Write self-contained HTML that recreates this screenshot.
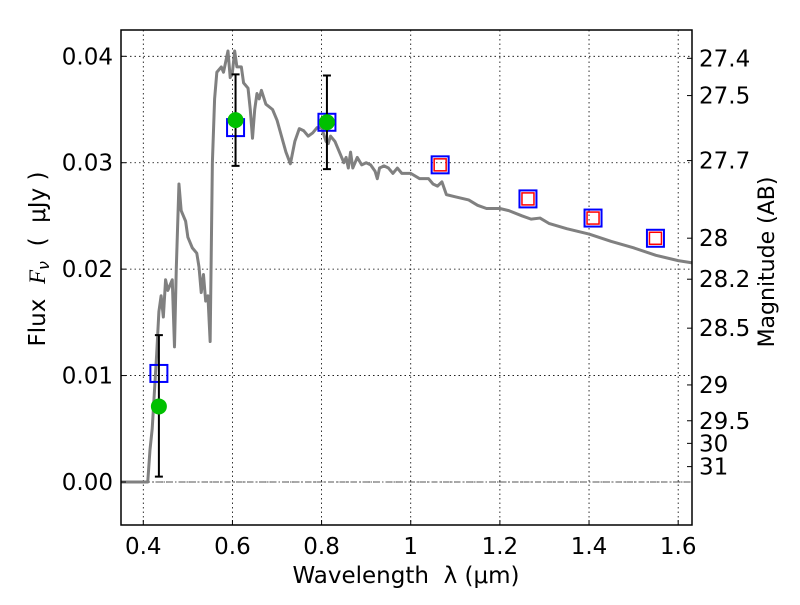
<!DOCTYPE html>
<html><head><meta charset="utf-8"><style>
body{margin:0;background:#fff}
svg text{font-family:"DejaVu Sans","Liberation Sans",sans-serif;fill:#000;white-space:pre}
</style></head><body>
<svg id="chart" width="800" height="600" viewBox="0 0 800 600" xmlns="http://www.w3.org/2000/svg">
<g id="grid"></g>
<g id="marks"></g>
<g id="axes"></g>
<text x="406" y="583" font-size="23" text-anchor="middle" xml:space="preserve">Wavelength  λ (μm)</text>
<text transform="translate(45,259) rotate(-90)" font-size="23" text-anchor="middle" xml:space="preserve">Flux  <tspan font-style="italic" font-family="Liberation Serif">F</tspan><tspan font-style="italic" font-size="16" dy="4">ν</tspan><tspan dy="-4">  (  μJy )</tspan></text>
<text transform="translate(774,262) rotate(-90)" font-size="22" text-anchor="middle">Magnitude (AB)</text>
</svg>
<script>
const specWave=[0.35,0.41,0.415,0.42,0.43,0.435,0.44,0.445,0.45,0.455,0.46,0.465,0.47,0.474,0.48,0.485,0.49,0.495,0.5,0.51,0.52,0.525,0.53,0.535,0.54,0.545,0.55,0.555,0.56,0.565,0.575,0.58,0.59,0.595,0.6,0.605,0.61,0.62,0.625,0.635,0.64,0.645,0.65,0.655,0.66,0.665,0.675,0.69,0.7,0.71,0.72,0.73,0.74,0.75,0.76,0.77,0.78,0.79,0.8,0.81,0.815,0.82,0.83,0.84,0.85,0.855,0.86,0.865,0.87,0.88,0.89,0.9,0.91,0.92,0.925,0.93,0.94,0.95,0.96,0.97,0.98,1.0,1.02,1.04,1.05,1.06,1.07,1.08,1.1,1.13,1.15,1.17,1.2,1.22,1.25,1.27,1.29,1.31,1.35,1.4,1.45,1.5,1.55,1.6,1.63];
const specFlux=[0,0,0.003,0.005,0.012,0.016,0.0175,0.0155,0.019,0.018,0.0185,0.019,0.0127,0.02,0.028,0.0255,0.025,0.0245,0.023,0.022,0.0215,0.0202,0.0178,0.0195,0.017,0.0175,0.0132,0.03,0.036,0.0385,0.039,0.0385,0.0405,0.038,0.0385,0.0405,0.039,0.039,0.0375,0.037,0.035,0.0323,0.035,0.0365,0.036,0.0368,0.0355,0.035,0.034,0.0325,0.031,0.0299,0.032,0.0332,0.033,0.0325,0.0328,0.0333,0.0333,0.032,0.0318,0.0325,0.032,0.031,0.03,0.0305,0.0295,0.031,0.0295,0.0305,0.0298,0.03,0.0298,0.0292,0.0285,0.0295,0.0297,0.0295,0.029,0.0295,0.029,0.029,0.0285,0.0285,0.028,0.0278,0.0282,0.027,0.0268,0.0265,0.026,0.0257,0.0257,0.0255,0.025,0.0247,0.0248,0.0243,0.0238,0.0233,0.0226,0.022,0.0213,0.0208,0.0206];
const modelWave=[0.435,0.607,0.812,1.066,1.263,1.409,1.549];
const modelFlux=[0.0102,0.0333,0.0338,0.0298,0.0266,0.0248,0.0229];
const irWave=[1.066,1.263,1.409,1.549];
const irFlux=[0.0298,0.0266,0.0248,0.0229];
const obsWave=[0.435,0.607,0.812];
const obsFlux=[0.0071,0.034,0.0338];
const obsLo=[0.0005,0.0297,0.0294];
const obsHi=[0.0138,0.0383,0.0382];
const xTicks=[0.4,0.6,0.8,1,1.2,1.4,1.6];
const xTickLabels=["0.4","0.6","0.8","1","1.2","1.4","1.6"];
const yTicks=[0,0.01,0.02,0.03,0.04];
const yTickLabels=["0.00","0.01","0.02","0.03","0.04"];
const magTicks=[27.4,27.5,27.7,28,28.2,28.5,29,29.5,30,31];

const L=121,R=692,T=30,B=525,X0=0.35,X1=1.631,Y0=-0.00404,Y1=0.04247;
const sx=v=>L+(v-X0)/(X1-X0)*(R-L);
const sy=v=>B-(v-Y0)/(Y1-Y0)*(B-T);
const NS="http://www.w3.org/2000/svg";
function mk(tag,parent,attrs){const e=document.createElementNS(NS,tag);for(const k in attrs)e.setAttribute(k,attrs[k]);parent.appendChild(e);return e;}
const grid=document.getElementById('grid'),marks=document.getElementById('marks'),axes=document.getElementById('axes');

xTicks.forEach((t,i)=>{
  const g=mk('line',grid,{x1:sx(t),x2:sx(t),y1:T,y2:B,stroke:'#000','stroke-width':0.8,'stroke-dasharray':'1.5,3'});
  
  
  const tk=mk('line',axes,{x1:sx(t),x2:sx(t),y1:B,y2:B-5,stroke:'#000'});
  
  
  const tx=mk('text',axes,{x:sx(t),y:B+29,'font-size':23,'text-anchor':'middle'});tx.textContent=xTickLabels[i];
  
  
});
yTicks.forEach((t,i)=>{
  const g=mk('line',grid,{x1:L,x2:R,y1:sy(t),y2:sy(t),stroke:'#000','stroke-width':0.8,'stroke-dasharray':'1.5,3'});
  
  
  const tk=mk('line',axes,{x1:L,x2:L+5,y1:sy(t),y2:sy(t),stroke:'#000'});
  
  
  const tx=mk('text',axes,{x:L-8,y:sy(t)+8,'font-size':23,'text-anchor':'end'});tx.textContent=yTickLabels[i];
  
  
});
magTicks.forEach(m=>{
  const f=Math.pow(10,(23.9-m)/2.5);
  const tk=mk('line',axes,{x1:R,x2:R-5,y1:sy(f),y2:sy(f),stroke:'#000'});
  
  
  const tx=mk('text',axes,{x:R+7,y:sy(f)+8,'font-size':23});tx.textContent=String(m);
  
  
});
const zl=mk('line',marks,{x1:L,x2:R,y1:sy(0),y2:sy(0),stroke:'#555','stroke-width':1,'stroke-dasharray':'6,2,1.5,2'});


const sp=mk('polyline',marks,{points:specWave.map((w,i)=>sx(w)+','+sy(specFlux[i])).join(' '),fill:'none',stroke:'#808080','stroke-width':3,'stroke-linejoin':'round'});


modelWave.forEach((w,i)=>{
  const r=mk('rect',marks,{x:sx(w)-8.5,y:sy(modelFlux[i])-8.5,width:17,height:17,fill:'none',stroke:'#0000ff','stroke-width':2});
  
  
});
irWave.forEach((w,i)=>{
  const r=mk('rect',marks,{x:sx(w)-6,y:sy(irFlux[i])-6,width:12,height:12,fill:'none',stroke:'#ff0000','stroke-width':1.5});
  
  
});
obsWave.forEach((w,i)=>{
  const x=sx(w);
  const e=mk('path',marks,{d:`M${x},${sy(obsLo[i])}V${sy(obsHi[i])}M${x-4},${sy(obsLo[i])}H${x+4}M${x-4},${sy(obsHi[i])}H${x+4}`,stroke:'#000','stroke-width':2,fill:'none'});
  
  
  const c=mk('circle',marks,{cx:x,cy:sy(obsFlux[i]),r:8,fill:'#00c000'});
  
  
});
const fr=mk('rect',axes,{x:L,y:T,width:R-L,height:B-T,fill:'none',stroke:'#000','stroke-width':1.5});


</script>
</body></html>
